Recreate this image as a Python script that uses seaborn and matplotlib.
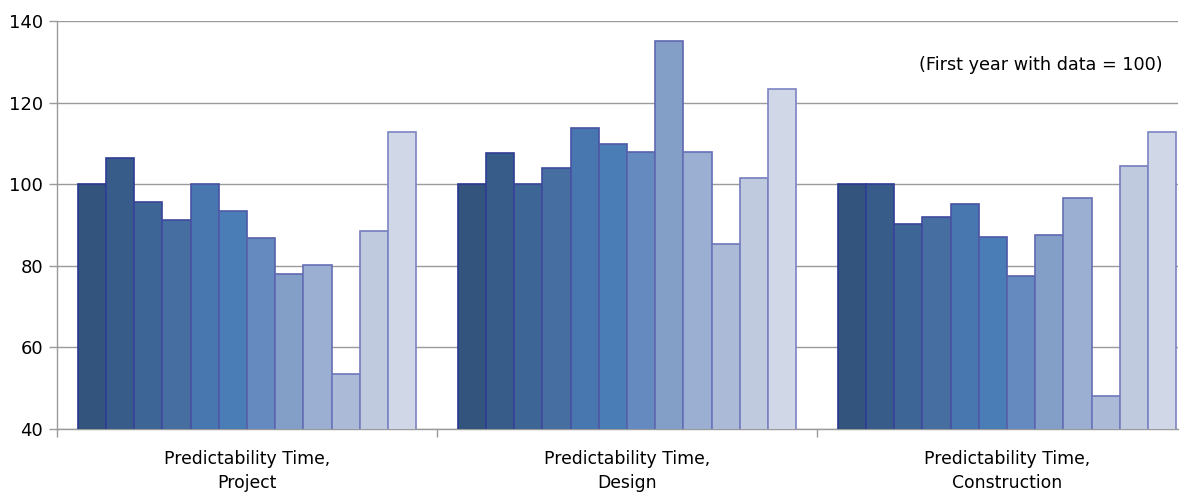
import numpy as np
import pandas as pd
import matplotlib
matplotlib.use("Agg")
import matplotlib.pyplot as plt
import seaborn as sns
from matplotlib.colors import to_rgb

categories = ["Predictability Time,\nProject", "Predictability Time,\nDesign", "Predictability Time,\nConstruction"]
years = [f"Year {i}" for i in range(1, 13)]
project = [100, 106.4, 95.6, 91.3, 100, 93.4, 86.9, 78.0, 80.3, 53.4, 88.5, 112.9]
design = [100, 107.7, 100, 103.9, 113.7, 109.8, 107.8, 135.2, 107.8, 85.3, 101.6, 123.4]
construction = [100, 100, 90.3, 91.9, 95.1, 87.0, 77.4, 87.5, 96.6, 48.0, 104.5, 112.7]
yticks = [40, 60, 80, 100, 120, 140]
note = "(First year with data = 100)"

fill_colors = ["#33547c", "#385c89", "#3d6596", "#466ea0", "#4876ae", "#4a7db5",
               "#648ac0", "#839fc8", "#9aafd2", "#abbad7", "#c0cadf", "#d0d7e7"]

rows = []
for cat, vals in zip(categories, [project, design, construction]):
    for y, v in zip(years, vals):
        rows.append({"category": cat, "year": y, "value": v})
df = pd.DataFrame(rows)

sns.set_style("white")
plt.rcParams['font.family'] = ['DejaVu Sans']

fig = plt.figure(figsize=(11.92, 4.95), dpi=100)
ax = fig.add_axes([57/1192, 1-429/495, (1178-57)/1192, (429-21)/495])

sns.barplot(data=df, x="category", y="value", hue="year", hue_order=years,
            order=categories, palette=fill_colors, saturation=1, width=0.89, gap=0,
            legend=False, ax=ax, bottom=0, zorder=3)

# edge colours: dark navy -> lighter violet
e0 = np.array(to_rgb("#2a3690"))
e1 = np.array(to_rgb("#7c84c4"))
for i, cont in enumerate(ax.containers):
    t = i / (len(ax.containers) - 1)
    ec = tuple(e0 * (1 - t) + e1 * t)
    for p in cont.patches:
        p.set_edgecolor(ec)
        p.set_linewidth(1.2)

ax.set_ylim(40, 140)
ax.set_xlim(-0.5, 2.45)
ax.set_yticks(yticks)
ax.yaxis.grid(True, color="#9a9a9a", linewidth=1.0, zorder=0)
ax.set_axisbelow(True)
ax.set_xlabel("")
ax.set_ylabel("")

for s in ["top", "right"]:
    ax.spines[s].set_visible(False)
for s in ["left", "bottom"]:
    ax.spines[s].set_color("#9a9a9a")
    ax.spines[s].set_linewidth(1.0)

ax.tick_params(axis="y", which="major", length=6, color="#9a9a9a", width=1.0,
               labelsize=13, pad=4, left=True, labelcolor="black")
ax.tick_params(axis="x", which="major", length=0, labelsize=12.4, pad=15, labelcolor="black")
for lbl in ax.get_xticklabels():
    lbl.set_linespacing(1.45)
ax.set_xticks([-0.5, 0.5, 1.5], minor=True)
ax.tick_params(axis="x", which="minor", length=6, color="#9a9a9a", width=1.0, bottom=True)

ax.text(2.09, 129.2, note, ha="center", va="center", fontsize=12.7, color="black")

fig.savefig("out.png", dpi=100)
